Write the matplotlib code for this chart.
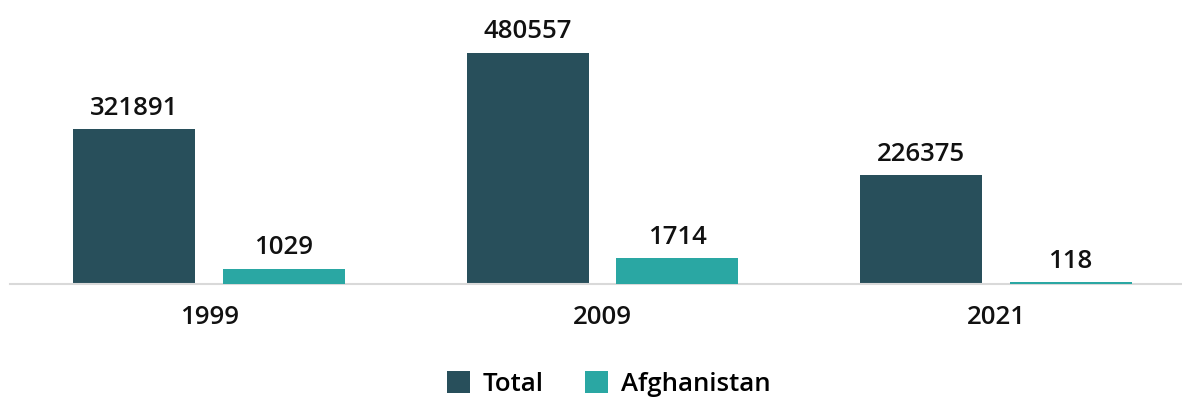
import matplotlib.pyplot as plt
import numpy as np

plt.rcParams['font.family'] = ['Open Sans', 'DejaVu Sans']

years = ["1999", "2009", "2021"]
total = [321891, 480557, 226375]
afghanistan = [1029, 1714, 118]

c_total = "#284f5b"
c_afg = "#2aa7a3"

fig = plt.figure(figsize=(11.82, 3.98), dpi=100)
ax = fig.add_axes([10 / 1182, 114 / 398, 1172 / 1182, 284 / 398])
ax2 = ax.twinx()

x = np.arange(len(years))
w = 0.31
off = 0.19

b1 = ax.bar(x - off, total, w, color=c_total, label="Total")
b2 = ax2.bar(x + off, afghanistan, w, color=c_afg, label="Afghanistan")

ax.set_xlim(-0.506, 2.473)
ax.set_ylim(0, 590000)
ax2.set_ylim(0, 19000)

for a, bars in ((ax, b1), (ax2, b2)):
    for b in bars:
        a.annotate(f"{int(b.get_height())}", (b.get_x() + b.get_width() / 2, b.get_height()),
                   xytext=(0, 6), textcoords="offset points", ha="center", va="bottom",
                   fontsize=18.5, fontweight="semibold", color="#111111")
    for s in a.spines.values():
        s.set_visible(False)
    a.set_yticks([])

ax.spines["bottom"].set_visible(True)
ax.spines["bottom"].set_color("#d9d9d9")
ax.spines["bottom"].set_linewidth(1.5)
ax.set_xticks(x)
ax.set_xticklabels(years, fontsize=18.5, fontweight="semibold", color="#111111")
ax.tick_params(axis="x", length=0, pad=15)

fig.legend(handles=[b1, b2], labels=["Total", "Afghanistan"], loc="lower center",
           bbox_to_anchor=(0.515, -0.055), ncol=2, frameon=False,
           prop={"size": 18.5, "weight": "semibold"}, handlelength=0.9, handleheight=0.9,
           handletextpad=0.5, columnspacing=1.6)

fig.savefig("out.png", dpi=100)
